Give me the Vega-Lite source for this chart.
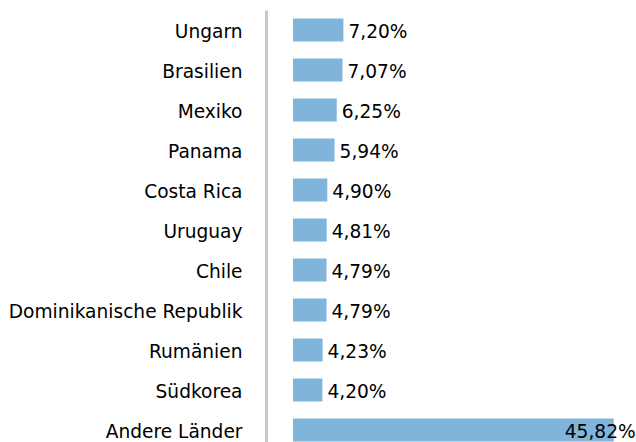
{
  "$schema": "https://vega.github.io/schema/vega-lite/v6.json",
  "autosize": {"type": "none"},
  "padding": {"left": 293, "top": 10, "right": 0, "bottom": 0},
  "width": 343,
  "height": 440,
  "background": "white",
  "config": {
    "view": {"stroke": null},
    "font": "DejaVu Sans",
    "locale": {"number": {"decimal": ",", "thousands": ".", "grouping": [3], "currency": ["", " €"]}}
  },
  "data": {
    "values": [
      {"land": "Ungarn", "share": 0.0720},
      {"land": "Brasilien", "share": 0.0707},
      {"land": "Mexiko", "share": 0.0625},
      {"land": "Panama", "share": 0.0594},
      {"land": "Costa Rica", "share": 0.0490},
      {"land": "Uruguay", "share": 0.0481},
      {"land": "Chile", "share": 0.0479},
      {"land": "Dominikanische Republik", "share": 0.0479},
      {"land": "Rumänien", "share": 0.0423},
      {"land": "Südkorea", "share": 0.0420},
      {"land": "Andere Länder", "share": 0.4582}
    ]
  },
  "encoding": {
    "y": {
      "field": "land", "type": "nominal", "sort": null,
      "scale": {"paddingInner": 0.425, "paddingOuter": 0.2125},
      "axis": {
        "title": null, "ticks": false, "tickSize": 0, "labelPadding": 24, "offset": 27,
        "domainColor": "#c8c8c8", "domainWidth": 3, "labelFontSize": 18.6, "labelLimit": 0,
        "labelOffset": 2, "labelColor": "#000000", "labelFont": "DejaVu Sans", "grid": false
      }
    }
  },
  "layer": [
    {
      "mark": {"type": "bar", "color": "#80b4da"},
      "encoding": {
        "x": {"field": "share", "type": "quantitative", "scale": {"domain": [0, 0.49], "nice": false}, "axis": null}
      }
    },
    {
      "transform": [{"filter": "datum.share < 0.4"}],
      "mark": {"type": "text", "align": "left", "baseline": "middle", "dx": 5, "dy": 2, "fontSize": 18.6, "color": "#000000"},
      "encoding": {
        "x": {"field": "share", "type": "quantitative"},
        "text": {"field": "share", "type": "quantitative", "format": ".2%"}
      }
    },
    {
      "transform": [{"filter": "datum.share >= 0.4"}],
      "mark": {"type": "text", "align": "left", "baseline": "middle", "dx": -49, "dy": 2, "fontSize": 18.6, "color": "#000000"},
      "encoding": {
        "x": {"field": "share", "type": "quantitative"},
        "text": {"field": "share", "type": "quantitative", "format": ".2%"}
      }
    }
  ]
}
